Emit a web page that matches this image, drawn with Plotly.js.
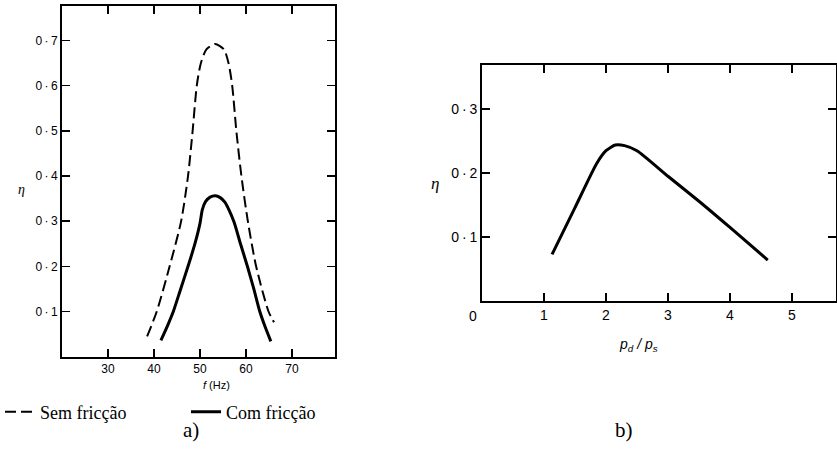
<!DOCTYPE html>
<html>
<head>
<meta charset="utf-8">
<script src="https://cdn.plot.ly/plotly-3.0.1.min.js"></script>
<style>
  html, body { margin: 0; padding: 0; background: #fff; }
  #chart { width: 837px; height: 456px; }
</style>
</head>
<body>
<div id="chart"></div>
<script>
// (a) efficiency against frequency, without friction (dashed)
const freqSem = [38.5, 40.6, 43.4, 45.9, 47.4, 48.4, 49.3, 50.2, 51.4, 53.3, 55.2, 56.2, 57.0, 57.9, 59.0, 60.4, 62.2, 64.9, 66.1];
const etaSem  = [0.045, 0.10, 0.20, 0.30, 0.40, 0.50, 0.60, 0.65, 0.68, 0.692, 0.68, 0.65, 0.60, 0.50, 0.40, 0.30, 0.20, 0.10, 0.076];

// (a) efficiency against frequency, with friction (solid)
const freqCom = [41.5, 43.0, 44.2, 45.8, 47.4, 48.9, 50.0, 50.5, 51.2, 52.2, 53.3, 54.4, 55.4, 56.3, 57.4, 58.8, 60.3, 61.7, 63.0, 64.2, 65.4];
const etaCom  = [0.036, 0.07, 0.10, 0.15, 0.20, 0.25, 0.295, 0.325, 0.343, 0.353, 0.356, 0.352, 0.342, 0.325, 0.298, 0.25, 0.20, 0.15, 0.10, 0.065, 0.034];

// (b) efficiency against pressure ratio p_d/p_s
const ratio  = [1.13, 1.5, 1.85, 2.0, 2.15, 2.3, 2.5, 3.0, 3.5, 4.0, 4.61];
const etaB   = [0.073, 0.146, 0.215, 0.235, 0.244, 0.243, 0.235, 0.195, 0.156, 0.115, 0.064];

// tick labels (thin spaces around the middle dot)
const freqTicks   = [30, 40, 50, 60, 70];
const freqLabels  = ['30', '40', '50', '60', '70'];
const etaTicksA   = [0.1, 0.2, 0.3, 0.4, 0.5, 0.6, 0.7];
const etaLabelsA  = ['0\u2009·\u20091', '0\u2009·\u20092', '0\u2009·\u20093', '0\u2009·\u20094', '0\u2009·\u20095', '0\u2009·\u20096', '0\u2009·\u20097'];
const ratioTicks  = [1, 2, 3, 4, 5];
const ratioLabels = ['1', '2', '3', '4', '5'];
const etaTicksB   = [0.1, 0.2, 0.3];
const etaLabelsB  = ['0\u2009·\u20091', '0\u2009·\u20092', '0\u2009·\u20093'];

const legendNames = ['Sem fricção', 'Com fricção'];

const W = 837, H = 456;
const px = v => v / W;
const py = v => 1 - v / H;

const sans = 'Liberation Sans, Arial, sans-serif';
const serif = 'Liberation Serif, Times New Roman, serif';
const ink = '#000';

const traces = [
  {
    x: freqSem, y: etaSem, xaxis: 'x', yaxis: 'y', mode: 'lines',
    name: legendNames[0],
    line: { color: ink, width: 2, dash: '11px,5px', shape: 'spline', smoothing: 0.7 },
    hoverinfo: 'skip'
  },
  {
    x: freqCom, y: etaCom, xaxis: 'x', yaxis: 'y', mode: 'lines',
    name: legendNames[1],
    line: { color: ink, width: 3, shape: 'spline', smoothing: 0.7 },
    hoverinfo: 'skip'
  },
  {
    x: ratio, y: etaB, xaxis: 'x2', yaxis: 'y2', mode: 'lines',
    showlegend: false,
    line: { color: ink, width: 3, shape: 'spline', smoothing: 0.6 },
    hoverinfo: 'skip'
  }
];

const axisBase = {
  showgrid: false, zeroline: false,
  showline: true, linecolor: ink, linewidth: 2,
  mirror: 'ticks', ticks: 'inside', ticklen: 8, tickwidth: 1.6, tickcolor: ink,
  fixedrange: true
};

const layout = {
  width: W, height: H,
  margin: { l: 0, r: 0, t: 0, b: 0 },
  paper_bgcolor: '#fff', plot_bgcolor: '#fff',
  xaxis: Object.assign({}, axisBase, {
    domain: [px(62), px(335)], range: [20, 79.35], anchor: 'y',
    tickvals: freqTicks, ticktext: freqLabels,
    tickfont: { family: sans, size: 12, color: ink }
  }),
  yaxis: Object.assign({}, axisBase, {
    domain: [py(356.7), py(6)], range: [0, 0.776], anchor: 'x',
    tickvals: etaTicksA, ticktext: etaLabelsA,
    tickfont: { family: sans, size: 12, color: ink }
  }),
  xaxis2: Object.assign({}, axisBase, {
    domain: [px(482), px(836)], range: [0, 5.71], anchor: 'y2',
    tickvals: ratioTicks, ticktext: ratioLabels,
    tickfont: { family: sans, size: 14, color: ink }
  }),
  yaxis2: Object.assign({}, axisBase, {
    domain: [py(301), py(65)], range: [0, 0.369], anchor: 'x2',
    tickvals: etaTicksB, ticktext: etaLabelsB,
    tickfont: { family: sans, size: 14, color: ink }
  }),
  showlegend: true,
  legend: {
    orientation: 'h', x: px(0), xanchor: 'left', y: py(412), yanchor: 'middle',
    font: { family: serif, size: 18, color: ink },
    itemwidth: 30, entrywidth: 141, entrywidthmode: 'pixels',
    bgcolor: 'rgba(0,0,0,0)', tracegroupgap: 0
  },
  annotations: [
    { xref: 'paper', yref: 'paper', x: px(16), y: py(189), text: '<i>η</i>', showarrow: false,
      font: { family: serif, size: 14, color: ink } },
    { xref: 'paper', yref: 'paper', x: px(201), y: py(393), text: '<i>f</i> (Hz)', showarrow: false,
      font: { family: sans, size: 11, color: ink } },
    { xref: 'paper', yref: 'paper', x: px(181), y: py(444), text: 'a)', showarrow: false,
      font: { family: serif, size: 21, color: ink } },
    { xref: 'paper', yref: 'paper', x: px(435), y: py(183), text: '<i>η</i>', showarrow: false,
      font: { family: serif, size: 17, color: ink } },
    { xref: 'x2', yref: 'y2', x: 0, y: 0, xshift: -9, yshift: -15, text: '0', showarrow: false,
      font: { family: sans, size: 14, color: ink } },
    { xref: 'paper', yref: 'paper', x: px(660), y: py(356), text: '<i>p<sub>d</sub> / p<sub>s</sub></i>', showarrow: false,
      font: { family: sans, size: 14, color: ink } },
    { xref: 'paper', yref: 'paper', x: px(635), y: py(444), text: 'b)', showarrow: false,
      font: { family: serif, size: 21, color: ink } }
  ]
};

Plotly.newPlot('chart', traces, layout, { staticPlot: true, displayModeBar: false });
</script>
</body>
</html>
